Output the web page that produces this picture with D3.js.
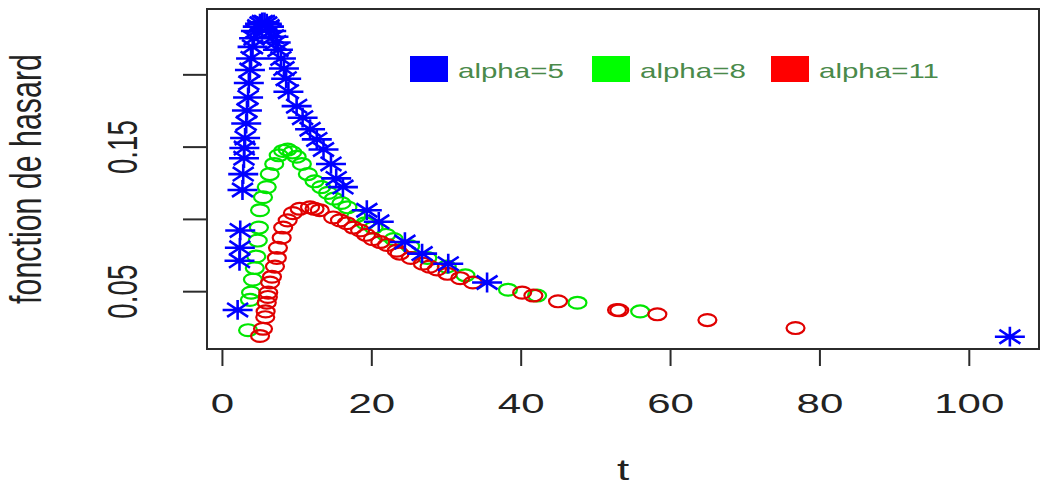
<!DOCTYPE html>
<html lang="fr">
<head>
    <meta charset="UTF-8">
    <title>fonction de hasard</title>
    <script src="https://cdn.jsdelivr.net/npm/d3@7"></script>
    <style>
        body { margin: 0; background: #fff; }
        svg { display: block; font-family: "Liberation Sans", Arial, sans-serif; }
    </style>
</head>
<body>
<svg width="1054" height="488"></svg>
<script>
    // hazard values: [t, h(t)]
    var alpha5 = [[2.1, 0.037], [2.35, 0.071], [2.4, 0.080], [2.45, 0.092], [2.75, 0.120], [2.85, 0.131],
        [2.95, 0.142], [3.0, 0.149], [3.1, 0.156], [3.25, 0.166], [3.35, 0.175], [3.5, 0.184], [3.6, 0.194],
        [3.75, 0.203], [3.9, 0.211], [4.1, 0.219], [4.3, 0.225], [4.55, 0.230], [4.8, 0.233], [5.1, 0.235],
        [5.4, 0.236], [5.7, 0.236], [6.0, 0.235], [6.3, 0.233], [6.6, 0.230], [6.9, 0.226], [7.2, 0.222],
        [7.5, 0.217], [7.9, 0.211], [8.3, 0.204], [8.6, 0.197], [8.9, 0.188], [10.0, 0.178], [10.8, 0.170],
        [11.8, 0.162], [12.7, 0.155], [13.6, 0.148], [14.6, 0.138], [15.3, 0.128], [16.2, 0.122],
        [19.4, 0.106], [21.0, 0.098], [24.5, 0.084], [26.8, 0.076], [30.3, 0.069], [35.5, 0.056], [105.5, 0.0185]];

    var alpha8 = [[3.5, 0.023], [3.75, 0.044], [3.9, 0.049], [4.15, 0.058], [4.4, 0.066], [4.6, 0.074],
        [4.8, 0.085], [4.95, 0.094], [5.1, 0.106], [5.5, 0.115], [6.0, 0.122], [6.4, 0.131], [7.0, 0.138],
        [7.6, 0.144], [8.2, 0.147], [8.8, 0.148], [9.4, 0.146], [10.0, 0.143], [10.7, 0.138], [11.5, 0.131],
        [12.4, 0.126], [13.3, 0.122], [14.2, 0.118], [15.0, 0.114], [16.0, 0.111], [16.8, 0.108], [18.0, 0.102],
        [19.2, 0.097], [20.3, 0.094], [22.0, 0.089], [23.0, 0.086], [25.2, 0.081], [27.5, 0.073], [30.1, 0.067],
        [32.6, 0.061], [38.3, 0.051], [42.2, 0.047], [47.6, 0.042], [56.0, 0.036]];

    var alpha11 = [[5.1, 0.019], [5.5, 0.024], [5.8, 0.032], [5.85, 0.036], [6.0, 0.042], [6.15, 0.046],
        [6.2, 0.049], [6.45, 0.056], [6.7, 0.060], [7.1, 0.067], [7.35, 0.073], [7.5, 0.080], [8.0, 0.087],
        [8.2, 0.094], [8.8, 0.099], [9.5, 0.104], [10.4, 0.107], [11.8, 0.108], [12.4, 0.107], [13.1, 0.106],
        [14.9, 0.101], [15.8, 0.099], [16.7, 0.097], [17.6, 0.094], [18.5, 0.092], [19.3, 0.089], [20.2, 0.086],
        [21.2, 0.084], [22.1, 0.082], [23.4, 0.078], [23.8, 0.076], [25.3, 0.073], [26.9, 0.069], [27.8, 0.067],
        [28.8, 0.065], [30.2, 0.062], [31.9, 0.059], [33.6, 0.056], [40.2, 0.049], [41.7, 0.047], [45.0, 0.043],
        [52.9, 0.037], [53.2, 0.0368], [58.3, 0.034], [65.0, 0.030], [76.8, 0.0245]];

    var legendLabels = ["alpha=5", "alpha=8", "alpha=11"];
    var xTicks = [0, 20, 40, 60, 80, 100];
    var yTicks = [0.05, 0.10, 0.15, 0.20];
    var yLabelled = [0.05, 0.15];   // R dropped the other two labels

    var svg = d3.select("svg");
    var sy = 0.66;   // the picture is squashed vertically
    var box = {left: 207, right: 1039, top: 9, bottom: 349};
    var ink = "#2b2b2b";

    var x = d3.scaleLinear().domain([-2.0, 109.4]).range([box.left, box.right]);
    var y = d3.scaleLinear().domain([0.010, 0.2452]).range([box.bottom, box.top]);

    // x axis
    var xAxis = svg.append("g")
        .attr("transform", "translate(0," + box.bottom + ")")
        .call(d3.axisBottom(x).tickValues(xTicks).tickSize(17).tickPadding(0).tickFormat(d3.format("d")));
    xAxis.select(".domain").remove();
    xAxis.selectAll("line").attr("stroke", ink).attr("stroke-width", 2);
    xAxis.selectAll("text")
        .attr("y", 64 / sy).attr("dy", null)
        .attr("transform", "scale(1," + sy + ")")
        .attr("font-size", 42).attr("fill", "#222");

    // y axis
    var yAxis = svg.append("g")
        .attr("transform", "translate(" + box.left + ",0)")
        .call(d3.axisLeft(y).tickValues(yTicks).tickSize(24)
            .tickFormat(d => yLabelled.indexOf(d) >= 0 ? d3.format(".2f")(d) : ""));
    yAxis.select(".domain").remove();
    yAxis.selectAll("line").attr("stroke", ink).attr("stroke-width", 2);
    yAxis.selectAll("text")
        .attr("x", null).attr("dy", null)
        .attr("text-anchor", "middle")
        .attr("transform", "translate(-70,0) scale(1," + sy + ") rotate(-90)")
        .attr("font-size", 42).attr("fill", "#222");

    svg.append("rect")
        .attr("x", box.left).attr("y", box.top)
        .attr("width", box.right - box.left).attr("height", box.bottom - box.top)
        .attr("fill", "none").attr("stroke", ink).attr("stroke-width", 2);

    // axis titles
    svg.append("text").text("t")
        .attr("text-anchor", "middle")
        .attr("transform", "translate(" + (box.left + box.right) / 2 + ",480) scale(1," + sy + ")")
        .attr("font-size", 44).attr("fill", "#222");
    svg.append("text").text("fonction de hasard")
        .attr("text-anchor", "middle")
        .attr("transform", "translate(41," + (box.top + box.bottom) / 2 + ") scale(1,0.69) rotate(-90)")
        .attr("font-size", 44).attr("fill", "#222");

    // markers
    var circle = d3.symbol().type(d3.symbolCircle).size(Math.PI * 81);
    var starPath = (function () {
        var a = 10.5, b = 15;
        return "M" + (-a) + "," + (-a) + "L" + a + "," + a + "M" + (-a) + "," + a + "L" + a + "," + (-a) +
            "M" + (-b) + ",0L" + b + ",0M0," + (-b) + "L0," + b;
    })();

    function drawSeries(data, color, shape, sw) {
        svg.append("g").selectAll("path")
            .data(data)
            .enter().append("path")
            .attr("d", shape)
            .attr("transform", d => "translate(" + x(d[0]) + "," + y(d[1]) + ") scale(1," + sy + ")")
            .attr("fill", "none")
            .attr("stroke", color)
            .attr("stroke-width", sw)
            .attr("vector-effect", "non-scaling-stroke");
    }

    drawSeries(alpha8, "#00e600", circle(), 2.2);
    drawSeries(alpha11, "#e00000", circle(), 2.2);
    drawSeries(alpha5, "#0000ff", starPath, 2.6);

    // legend
    var legendColors = ["#0000ff", "#00ff00", "#ff0000"];
    var legendX = [410, 592, 771];
    var lg = svg.append("g");
    legendLabels.forEach(function (lab, i) {
        lg.append("rect")
            .attr("x", legendX[i]).attr("y", 56).attr("width", 38).attr("height", 26)
            .attr("fill", legendColors[i]);
        lg.append("text").text(lab)
            .attr("transform", "translate(" + (legendX[i] + 48) + ",78) scale(1," + sy + ")")
            .attr("font-size", 29.5).attr("fill", "#4a8a4a");
    });
</script>
</body>
</html>
